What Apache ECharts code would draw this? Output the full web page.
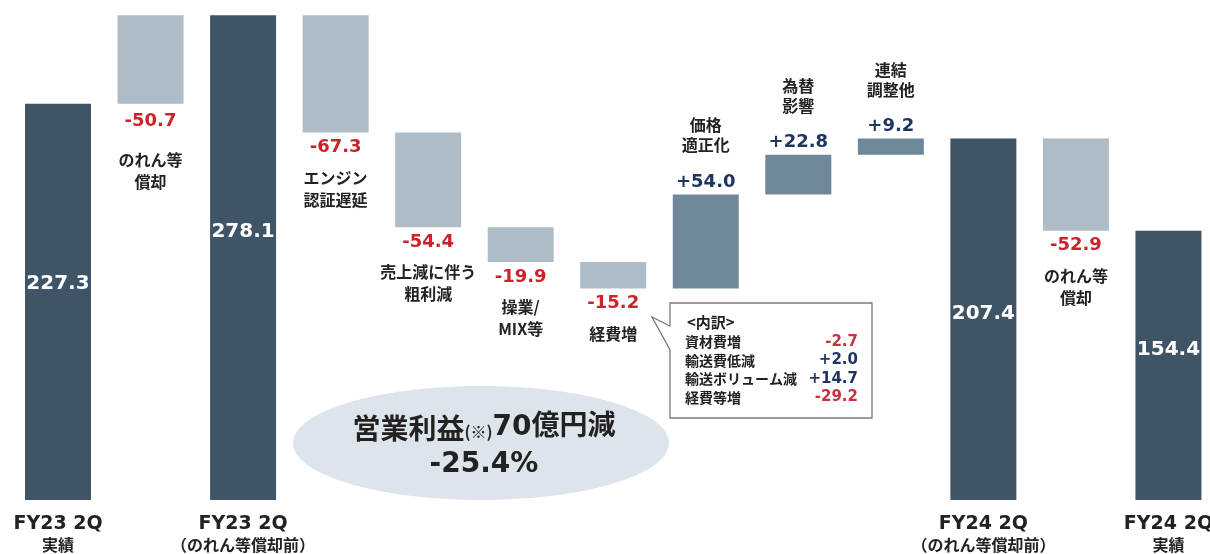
<!DOCTYPE html>
<html><head><meta charset="utf-8">
<script src="https://cdn.jsdelivr.net/npm/echarts@6/dist/echarts.min.js"></script>
<style>html,body{margin:0;padding:0;background:#fff}#c{width:1210px;height:554px}</style>
</head><body><div id="c"></div>
<script>
// ---------- data ----------
const categories = ['FY23 2Q\n実績', 'のれん等\n償却', 'FY23 2Q\n（のれん等償却前）', 'エンジン\n認証遅延', '売上減に伴う\n粗利減', '操業/\nMIX等', '経費増', '価格\n適正化', '為替\n影響', '連結\n調整他', 'FY24 2Q\n（のれん等償却前）', 'のれん等\n償却', 'FY24 2Q\n実績'];
const kinds = ['total', 'addback', 'total', 'step', 'step', 'step', 'step', 'step', 'step', 'step', 'total', 'step', 'total'];
const values = [227.3, -50.7, 278.1, -67.3, -54.4, -19.9, -15.2, 54.0, 22.8, 9.2, 207.4, -52.9, 154.4];
const breakdownTitle = '<内訳>';
const breakdownItems = ['資材費増', '輸送費低減', '輸送ボリューム減', '経費等増'];
const breakdownValues = [-2.7, 2.0, 14.7, -29.2];
const summaryHead = ['営業利益', '(※)', '70億円減'];
const summaryPct = '-25.4%';

// ---------- styles / layout ----------
const C_TOTAL = '#3f5567', C_NEG = '#adbcc6', C_POS = '#6f8899';
const C_RED = '#cc2229', C_NAVY = '#1f3560', C_TXT = '#222';
const NUM = "'DejaVu Sans', 'Noto Sans CJK JP', sans-serif";
const JP = "'Noto Sans CJK JP', sans-serif";
const totalLabelShift = {0: -18, 2: -26, 10: -5, 12: -16};
const X_MIN = -0.6268, X_MAX = 12.449;

// build waterfall spans
let level = 0;
const spans = values.map((v, i) => {
  let s, e;
  if (kinds[i] === 'total') { s = 0; e = v; level = v; }
  else if (kinds[i] === 'addback') { s = level; e = level + Math.abs(v); }
  else { s = level; e = level + v; level = e; }
  return [i, s, e];
});

function fmt(v, kind) {
  if (kind === 'total') return v.toFixed(1);
  return (v > 0 ? '+' : '') + v.toFixed(1);
}

function renderItem(params, api) {
  const i = params.dataIndex;
  const kind = kinds[i], v = values[i];
  const base = api.coord([api.value(0), 0]);
  const x = base[0];
  const bw = api.size([1, 0])[0] * 0.713;
  const ya = api.coord([i, api.value(1)])[1];
  const yb = api.coord([i, api.value(2)])[1];
  const top = Math.min(ya, yb), bottom = Math.max(ya, yb);
  const fill = kind === 'total' ? C_TOTAL : (v < 0 ? C_NEG : C_POS);
  const ch = [{type: 'rect', shape: {x: x - bw / 2, y: top, width: bw, height: bottom - top}, style: {fill: fill}}];
  const txt = (t, yy, color, font) => ({type: 'text', x: x, y: yy, style: {text: t, fill: color, font: font, align: 'center', verticalAlign: 'middle'}});
  const names = categories[i].split('\n');
  if (kind === 'total') {
    ch.push(txt(fmt(v, kind), (top + bottom) / 2 + (totalLabelShift[i] || 0), '#fff', 'bold 20px ' + NUM));
    ch.push(txt(names[0], base[1] + 24, C_TXT, 'bold 19px ' + NUM));
    ch.push(txt(names[1], base[1] + 45, C_TXT, 'bold 16px ' + JP));
  } else if (v < 0) {
    const add = kind === 'addback';
    ch.push(txt(fmt(v, kind), bottom + (add ? 18 : 15), C_RED, 'bold 18px ' + NUM));
    names.forEach((n, k) => ch.push(txt(n, bottom + (add ? 56 : 45) + k * 22, C_TXT, 'bold 16px ' + JP)));
  } else {
    ch.push(txt(fmt(v, kind), top - 12, C_NAVY, 'bold 18px ' + NUM));
    names.forEach((n, k) => ch.push(txt(n, top - 49 - (names.length - 1 - k) * 20, C_TXT, 'bold 16px ' + JP)));
  }
  return {type: 'group', children: ch};
}

const chart = echarts.init(document.getElementById('c'), null, {renderer: 'canvas'});

const bx = 670, by = 303, bw2 = 202, bh = 115;
const graphics = [
  {type: 'ellipse', z: 0, shape: {cx: 481, cy: 443, rx: 188, ry: 57}, style: {fill: '#dde4eb'}},
  {type: 'text', z: 1, x: 484, y: 428, style: {
    text: '{a|' + summaryHead[0] + '}{b|' + summaryHead[1] + '}{c|' + summaryHead[2] + '}',
    align: 'center', verticalAlign: 'middle',
    rich: {a: {font: 'bold 28px ' + JP, fill: C_TXT}, b: {font: 'bold 16px ' + JP, fill: C_TXT, padding: [8, 0, 0, 0]}, c: {font: 'bold 28px ' + NUM, fill: C_TXT}}
  }},
  {type: 'text', z: 1, x: 484, y: 465, style: {text: summaryPct, font: 'bold 28px ' + NUM, fill: C_TXT, align: 'center', verticalAlign: 'middle'}},
  {type: 'polygon', z: 2, shape: {points: [[bx, by], [bx + bw2, by], [bx + bw2, by + bh], [bx, by + bh], [bx, 350], [652, 317], [bx, 326]]},
    style: {fill: '#fff', stroke: '#7a7a7a', lineWidth: 1.3}},
  {type: 'text', z: 3, x: 687, y: 322, style: {text: breakdownTitle, font: 'bold 15px ' + JP, fill: C_TXT, align: 'left', verticalAlign: 'middle'}}
];
breakdownItems.forEach((n, k) => {
  const yy = 342 + k * 18.5;
  graphics.push({type: 'text', z: 3, x: 685, y: yy, style: {text: n, font: 'bold 14px ' + JP, fill: C_TXT, align: 'left', verticalAlign: 'middle'}});
  const bv = breakdownValues[k];
  graphics.push({type: 'text', z: 3, x: 858, y: yy, style: {text: (bv > 0 ? '+' : '') + bv.toFixed(1), font: 'bold 15px ' + NUM, fill: bv < 0 ? '#c8323a' : C_NAVY, align: 'right', verticalAlign: 'middle'}});
});

chart.setOption({
  animation: false,
  backgroundColor: '#fff',
  grid: {left: 0, right: 0, top: 0, bottom: 54},
  xAxis: {type: 'value', min: X_MIN, max: X_MAX, show: false, splitLine: {show: false}},
  yAxis: {type: 'value', min: 0, max: 286.8, show: false, splitLine: {show: false}},
  series: [{
    type: 'custom', renderItem: renderItem, data: spans,
    encode: {x: 0, y: [1, 2]}, clip: false, z: 5
  }],
  graphic: graphics
});
</script></body></html>
